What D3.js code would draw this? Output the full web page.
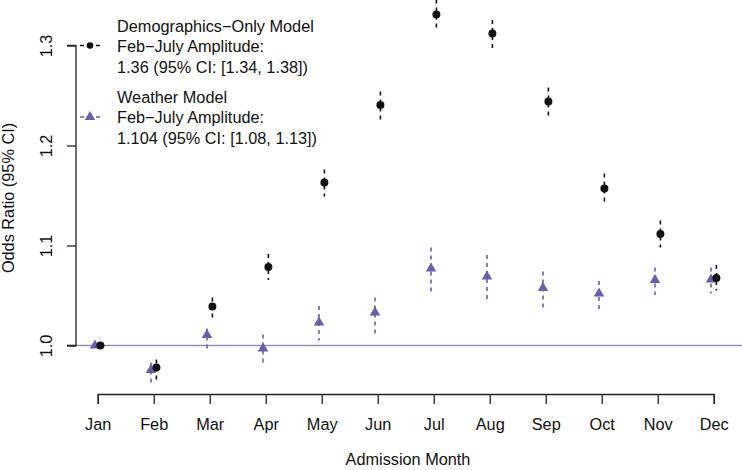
<!DOCTYPE html>
<html>
<head>
<meta charset="utf-8">
<script src="https://cdn.jsdelivr.net/npm/d3@7"></script>
<style>
  html, body { margin: 0; padding: 0; background: #fff; }
  svg { display: block; }
  text { font-family: "Liberation Sans", Arial, Helvetica, sans-serif; fill: #111; }
</style>
</head>
<body>
<svg id="chart" width="742" height="470"></svg>
<script>
// ---- data ----
const months = ["Jan","Feb","Mar","Apr","May","Jun","Jul","Aug","Sep","Oct","Nov","Dec"];
const demoOR = [1.000, 0.978, 1.039, 1.0785, 1.163, 1.2405, 1.331, 1.312, 1.244, 1.157, 1.1115, 1.0675];
const demoLo = [null, 0.9655, 1.027, 1.0655, 1.149, 1.226, 1.316, 1.297, 1.229, 1.144, 1.098, 1.055];
const demoHi = [null, 0.986, 1.048, 1.0915, 1.176, 1.254, 1.346, 1.3255, 1.258, 1.172, 1.125, 1.0805];
const weatherOR = [1.000, 0.9755, 1.0105, 0.997, 1.023, 1.033, 1.077, 1.069, 1.0575, 1.052, 1.0655, 1.066];
const weatherLo = [null, 0.963, 0.997, 0.9815, 1.005, 1.0115, 1.054, 1.0455, 1.0365, 1.036, 1.0505, 1.052];
const weatherHi = [null, 0.983, 1.017, 1.011, 1.0395, 1.048, 1.098, 1.0905, 1.074, 1.0645, 1.078, 1.078];
const yTicks = [1.0, 1.1, 1.2, 1.3];
const legendDemo = ["Demographics\u2212Only Model", "Feb\u2212July Amplitude:", "1.36 (95% CI: [1.34, 1.38])"];
const legendWeather = ["Weather Model", "Feb\u2212July Amplitude:", "1.104 (95% CI: [1.08, 1.13])"];

const purple = "#6c5dab";
const refColor = "#8d93bf";
const fs = 16.3;

const svg = d3.select("#chart");

const x = d3.scalePoint().domain(months).range([97.7, 713.7]);
const y = d3.scaleLinear().domain([1.0, 1.3]).range([345.5, 45.5]);
const off = 2.7;

// reference line at OR = 1
svg.append("line")
  .attr("x1", 76).attr("x2", 742)
  .attr("y1", y(1)).attr("y2", y(1))
  .attr("stroke", refColor).attr("stroke-width", 1.4);

// y axis
const yAxis = d3.axisLeft(y).tickValues(yTicks).tickFormat(d3.format(".1f")).tickSize(9).tickPadding(0);
const gy = svg.append("g").attr("transform", "translate(76,0)").call(yAxis);
gy.select(".domain").attr("stroke", "#222").attr("stroke-width", 1.3).attr("d", `M-9,${y(1.3)}H0V${y(1.0)}H-9`);
gy.selectAll(".tick line").attr("stroke", "#222").attr("stroke-width", 1.3);
gy.selectAll(".tick text")
  .attr("x", null).attr("dy", null)
  .attr("text-anchor", "middle")
  .attr("transform", "translate(-24,0) rotate(-90)")
  .attr("font-size", fs)
  .style("font-family", '"Liberation Sans", Arial, sans-serif')
  .attr("fill", "#111");

// x axis
const xAxis = d3.axisBottom(x).tickSize(10).tickPadding(0);
const gx = svg.append("g").attr("transform", "translate(0,394)").call(xAxis);
gx.select(".domain").attr("stroke", "#222").attr("stroke-width", 1.3);
gx.selectAll(".tick line").attr("stroke", "#222").attr("stroke-width", 1.3);
gx.selectAll(".tick text")
  .attr("y", 36).attr("dy", null)
  .attr("font-size", fs)
  .style("font-family", '"Liberation Sans", Arial, sans-serif')
  .attr("fill", "#111");

// axis titles
svg.append("text").attr("x", 408).attr("y", 465).attr("text-anchor", "middle")
  .attr("font-size", fs).text("Admission Month");
svg.append("text").attr("transform", "translate(14,198) rotate(-90)").attr("text-anchor", "middle")
  .attr("font-size", fs).text("Odds Ratio (95% CI)");

// weather model
const wIdx = d3.range(months.length);
svg.append("g").selectAll("line").data(wIdx.filter(i => weatherLo[i] !== null)).join("line")
  .attr("x1", i => x(months[i]) - off).attr("x2", i => x(months[i]) - off)
  .attr("y1", i => y(weatherHi[i])).attr("y2", i => y(weatherLo[i]))
  .attr("stroke", purple).attr("stroke-width", 1.6).attr("stroke-dasharray", "4,4");
const tri = d3.symbol().type(d3.symbolTriangle).size(48);
svg.append("g").selectAll("path").data(wIdx).join("path")
  .attr("d", tri)
  .attr("transform", i => `translate(${x(months[i]) - off},${y(weatherOR[i])})`)
  .attr("fill", purple);

// demographics model
svg.append("g").selectAll("line").data(wIdx.filter(i => demoLo[i] !== null)).join("line")
  .attr("x1", i => x(months[i]) + off).attr("x2", i => x(months[i]) + off)
  .attr("y1", i => y(demoHi[i])).attr("y2", i => y(demoLo[i]))
  .attr("stroke", "#111").attr("stroke-width", 1.6).attr("stroke-dasharray", "4,4");
svg.append("g").selectAll("circle").data(wIdx).join("circle")
  .attr("cx", i => x(months[i]) + off).attr("cy", i => y(demoOR[i]))
  .attr("r", 4).attr("fill", "#111");

// legend
const lg = svg.append("g");
lg.append("line").attr("x1", 80).attr("x2", 100).attr("y1", 45.5).attr("y2", 45.5)
  .attr("stroke", "#111").attr("stroke-width", 1.4).attr("stroke-dasharray", "4,4");
lg.append("circle").attr("cx", 90).attr("cy", 45.5).attr("r", 3.3).attr("fill", "#111");
lg.append("line").attr("x1", 80).attr("x2", 100).attr("y1", 117).attr("y2", 117)
  .attr("stroke", purple).attr("stroke-width", 1.4).attr("stroke-dasharray", "4,4");
lg.append("path").attr("d", tri).attr("transform", "translate(90,117)").attr("fill", purple);

lg.selectAll("text.demo").data(legendDemo).join("text").attr("class", "demo")
  .attr("x", 117).attr("y", (d, i) => 32 + i * 20.3).attr("font-size", fs).text(d => d);
lg.selectAll("text.wea").data(legendWeather).join("text").attr("class", "wea")
  .attr("x", 117).attr("y", (d, i) => 103 + i * 20.3).attr("font-size", fs).text(d => d);
</script>
</body>
</html>
